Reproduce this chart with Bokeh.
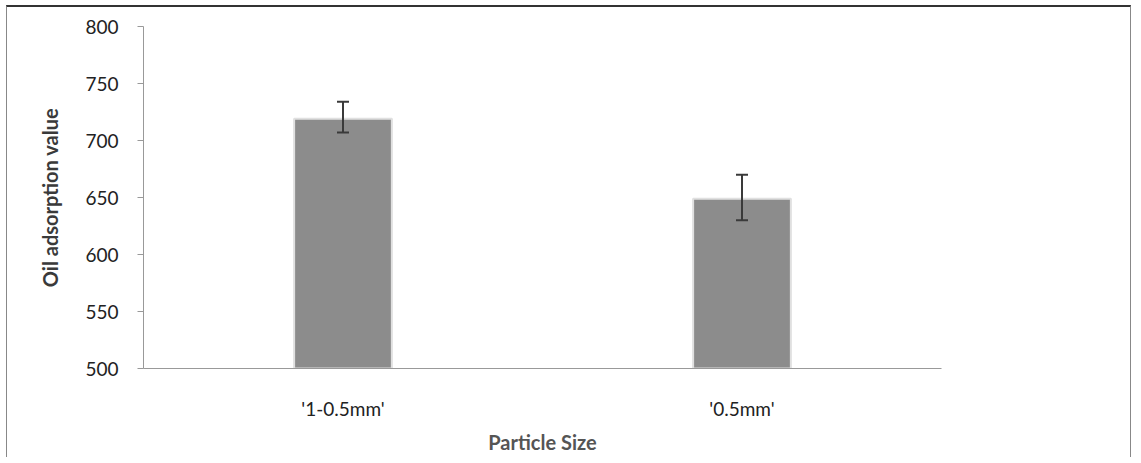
from bokeh.plotting import figure
from bokeh.models import ColumnDataSource, Whisker, Range1d, FactorRange
from bokeh.embed import file_html
from bokeh.resources import INLINE

categories = ["'1-0.5mm'", "'0.5mm'"]
values = [719, 649]
err_upper = [734, 670]
err_lower = [707, 630]
y_ticks = [500, 550, 600, 650, 700, 750, 800]
baseline = 500

src = ColumnDataSource(dict(cat=categories, val=values, upper=err_upper, lower=err_lower))

p = figure(
    x_range=FactorRange(*categories),
    y_range=Range1d(y_ticks[0], y_ticks[-1]),
    width=1125, height=452,
    output_backend="svg", toolbar_location=None,
    min_border_left=136, min_border_right=191, min_border_top=19, min_border_bottom=91,
)
p.styles = {"border-top": "2px solid #333", "border-left": "1px solid #888",
            "border-right": "1px solid #888", "margin-left": "6px", "margin-top": "5px"}

p.vbar(x="cat", top="val", bottom=baseline, width=0.245, source=src,
       fill_color="#8c8c8c", line_color="#e0e0e0", line_width=2)

w = Whisker(base="cat", upper="upper", lower="lower", source=src,
            line_color="#3a3a3a", line_width=2, level="overlay")
for h in (w.upper_head, w.lower_head):
    h.size = 12
    h.line_color = "#3a3a3a"
    h.line_width = 2
p.add_layout(w)

p.xgrid.visible = False
p.ygrid.visible = False
p.outline_line_color = None

font = "Lato"
p.yaxis.ticker = y_ticks
p.yaxis.major_tick_in = 0
p.yaxis.major_tick_out = 6
p.yaxis.minor_tick_line_color = None
p.yaxis.axis_line_color = "#999999"
p.yaxis.major_tick_line_color = "#999999"
p.yaxis.major_label_text_font = font
p.yaxis.major_label_text_font_size = "19px"
p.yaxis.major_label_text_color = "#222222"
p.yaxis.major_label_standoff = 19
p.yaxis.axis_label = "Oil adsorption value"
p.yaxis.axis_label_text_font = font
p.yaxis.axis_label_text_font_style = "bold"
p.yaxis.axis_label_text_font_size = "20px"
p.yaxis.axis_label_text_color = "#3a3a3a"
p.yaxis.axis_label_standoff = 20

p.xaxis.major_tick_line_color = None
p.xaxis.major_tick_out = 0
p.xaxis.major_tick_in = 0
p.xaxis.minor_tick_line_color = None
p.xaxis.axis_line_color = "#999999"
p.xaxis.major_label_text_font = font
p.xaxis.major_label_text_font_size = "19px"
p.xaxis.major_label_text_color = "#222222"
p.xaxis.major_label_standoff = 28
p.xaxis.axis_label = "Particle Size"
p.xaxis.axis_label_text_font = font
p.xaxis.axis_label_text_font_style = "bold"
p.xaxis.axis_label_text_font_size = "20px"
p.xaxis.axis_label_text_color = "#555555"
p.xaxis.axis_label_standoff = 7

open("out.html", "w").write(file_html(p, INLINE))
